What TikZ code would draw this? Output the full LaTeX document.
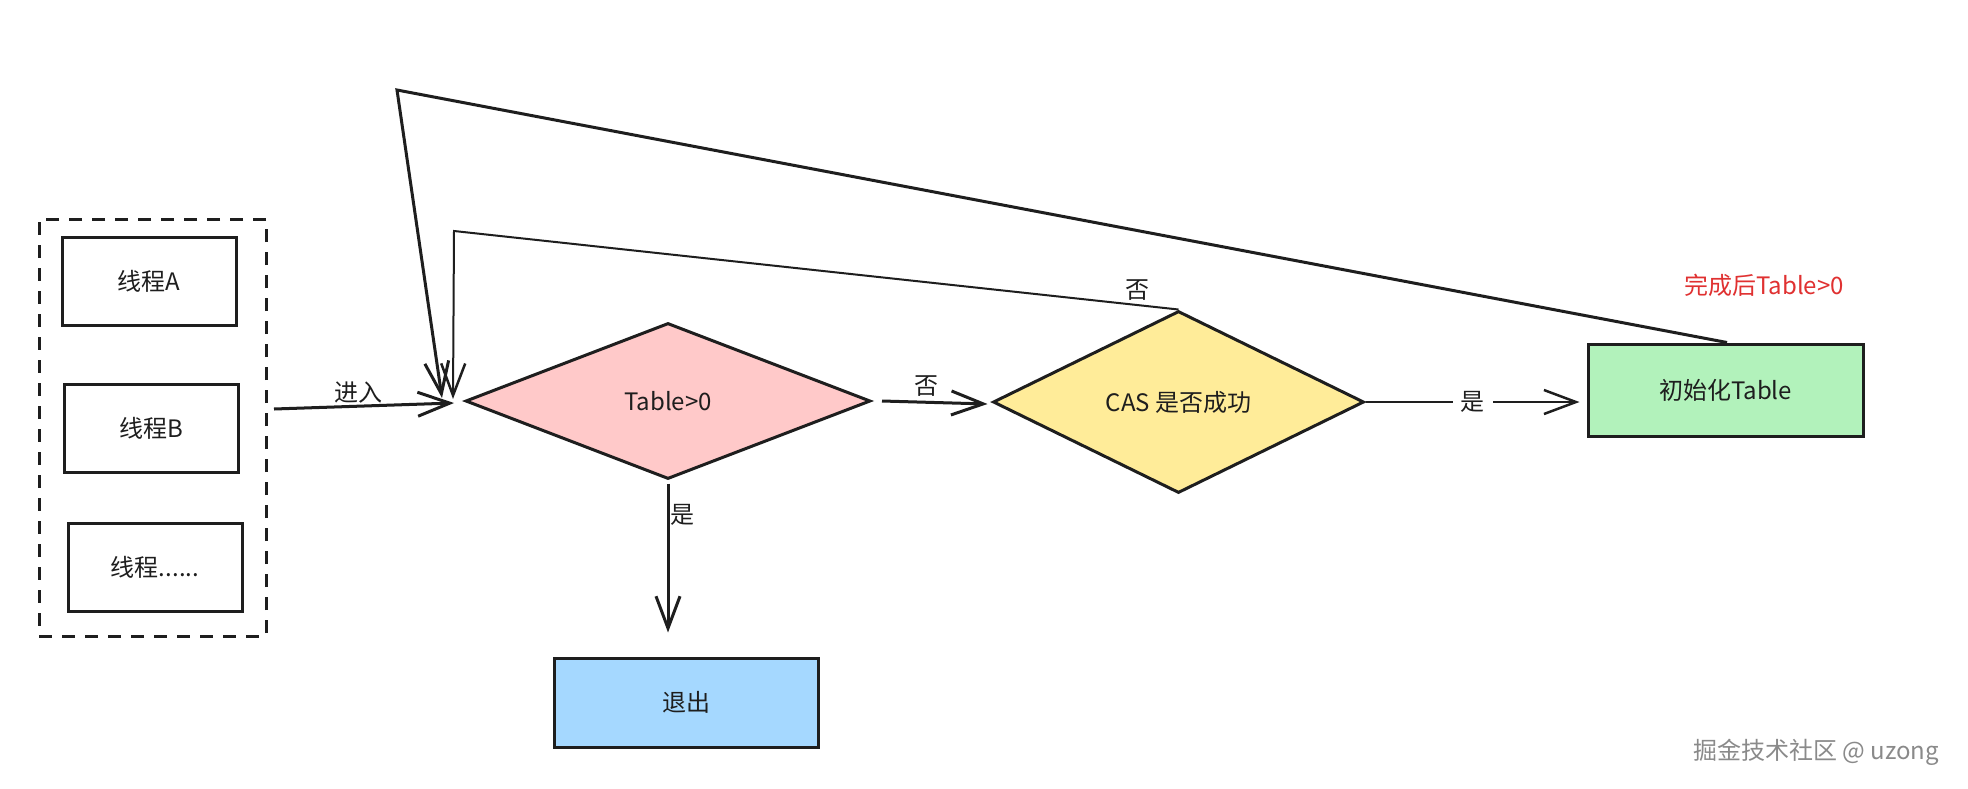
\documentclass[tikz,border=0pt]{standalone}
\usepackage{fontspec}
\setmainfont{Noto Sans CJK SC}
\usetikzlibrary{shapes.geometric,arrows.meta,calc}
\definecolor{ink}{HTML}{1E1E1E}
\definecolor{pinkf}{HTML}{FFC9C9}
\definecolor{yellowf}{HTML}{FFEC99}
\definecolor{greenf}{HTML}{B2F2BB}
\definecolor{bluef}{HTML}{A5D8FF}
\definecolor{redt}{HTML}{E03131}
\definecolor{wmgray}{HTML}{8A8A8A}
\begin{document}
\begin{tikzpicture}[x=1pt,y=-1pt,
  every node/.style={font=\fontsize{24}{28}\selectfont, text=ink},
  box/.style={draw=ink, line width=3pt, minimum width=174pt, minimum height=88pt, inner sep=0pt},
  dia/.style={diamond, draw=ink, line width=3pt, inner sep=0pt},
  conn/.style={draw=ink, line width=3pt, -{Straight Barb[length=32pt,width=24pt,line width=3pt]}},
  thinconn/.style={draw=ink, line width=2pt, -{Straight Barb[length=32pt,width=24pt,line width=2.5pt]}},
  lbl/.style={inner sep=2pt}
]
\useasboundingbox (0,0) rectangle (1968,788);
\fill[white] (0,0) rectangle (1968,788);

% group of threads
\node[draw=ink, line width=3pt, dash pattern=on 13pt off 10pt, minimum width=227pt, minimum height=417pt, inner sep=0pt] (grp) at (152.5,427.5) {};
\node[box] (tA) at (149,281) {线程A};
\node[box] (tB) at (151,428) {线程B};
\node[box] (tC) at (155,567) {线程......};

% main shapes
\node[dia, fill=pinkf, minimum width=405pt, minimum height=156pt] (pink) at (668,401) {Table>0};
\node[dia, fill=yellowf, minimum width=371pt, minimum height=182pt] (cas) at (1178.5,402) {CAS 是否成功};
\node[box, fill=greenf, minimum width=275pt, minimum height=92pt] (init) at (1725.5,390) {初始化Table};
\node[box, fill=bluef, minimum width=264pt, minimum height=89pt] (exit) at (686,702.5) {退出};

% entry
\coordinate (entryS) at (274,409);
\draw[conn] (entryS) -- ([xshift=-10pt,yshift=-2pt]pink.west);
\node[lbl] (lin) at (358,393) {进入};

% pink -> cas
\draw[conn] ([xshift=10pt]pink.east) -- ([xshift=-4pt,yshift=-2pt]cas.west);
\node[lbl] (lno1) at (926,386) {否};

% cas -> init
\draw[thinconn] (cas.east) -- ([xshift=-7pt]init.west |- cas.east)
  node[midway, fill=white, inner sep=8pt] (lyes1) {是};

% pink -> exit
\draw[conn] ([yshift=-3pt]pink.south) -- ($(pink.south |- exit.north)+(0,-24)$);
\node[lbl] (lyes2) at (682,515) {是};

% cas -> back to pink (no)
\coordinate (c1) at (454,231);
\draw[thinconn] (cas.north) -- (c1) -- ([xshift=-11pt,yshift=2pt]pink.west);
\node[lbl] (lno2) at (1137,290) {否};

% init -> back to pink
\coordinate (c2) at (397,90);
\draw[conn] ([xshift=1.5pt]init.north) -- (c2) -- ([xshift=-22pt,yshift=3pt]pink.west);
\node[lbl, text=redt] (done) at (1764,285) {完成后Table>0};

% watermark
\node[text=wmgray] (wm) at (1816,752) {掘金技术社区 @ uzong};
\end{tikzpicture}
\end{document}
